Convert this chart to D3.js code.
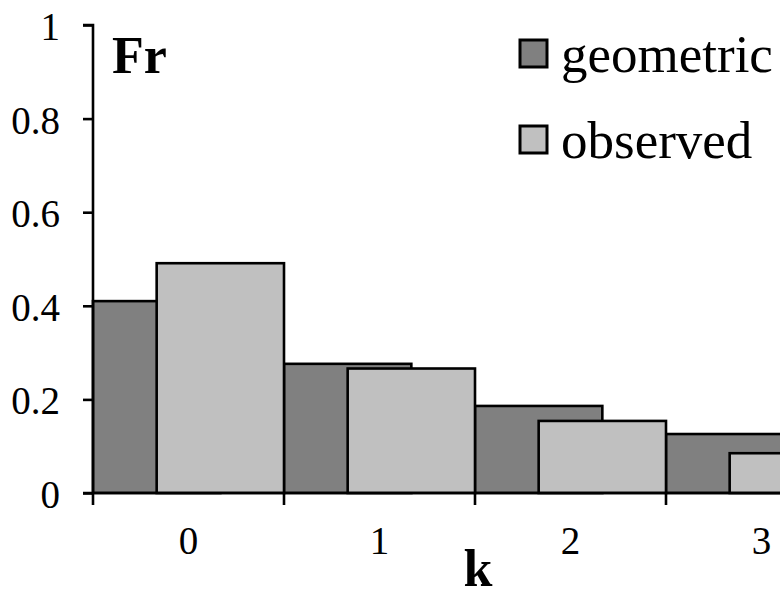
<!DOCTYPE html>
<html>
<head>
<meta charset="utf-8">
<script src="https://cdn.jsdelivr.net/npm/d3@7"></script>
<style>
  html, body { margin: 0; padding: 0; background: #fff; overflow: hidden; }
  svg { display: block; }
  text { font-family: "Liberation Serif", "Times New Roman", serif; fill: #000; }
</style>
</head>
<body>
<svg id="chart" width="780" height="590"></svg>
<script>
const categories = ["0", "1", "2", "3"];
const geometric = [0.41, 0.276, 0.186, 0.126];
const observed = [0.491, 0.266, 0.154, 0.085];
const yTicks = [0, 0.2, 0.4, 0.6, 0.8, 1];
const seriesNames = ["geometric", "observed"];
const seriesColors = ["#808080", "#c0c0c0"];

const svg = d3.select("#chart");
const x = d3.scaleBand().domain(categories).range([93, 857]).padding(0);
const y = d3.scaleLinear().domain([0, 1]).range([493, 25]);
const bw = x.bandwidth();
const barW = bw * 2 / 3;

// bars: geometric first, observed on top
const series = [geometric, observed];
series.forEach((vals, si) => {
  svg.append("g").selectAll("rect")
    .data(vals)
    .join("rect")
    .attr("x", (d, i) => x(categories[i]) + si * bw / 3)
    .attr("y", d => y(d))
    .attr("width", barW)
    .attr("height", d => y(0) - y(d))
    .attr("fill", seriesColors[si])
    .attr("stroke", "#000")
    .attr("stroke-width", 2.6);
});

// y axis
const yAxis = svg.append("g").attr("transform", "translate(93,0)")
  .call(d3.axisLeft(y).tickValues(yTicks).tickSize(10).tickPadding(23)
    .tickFormat(d => d3.format("")(d)));
yAxis.select(".domain").attr("stroke", "#000").attr("stroke-width", 2.6).attr("d", "M-10,25H0V493");
yAxis.selectAll(".tick line").attr("stroke", "#000").attr("stroke-width", 2.6);
yAxis.selectAll(".tick text").attr("font-size", 39).attr("font-family", "Liberation Serif").attr("dy", "0.37em");

// x axis
const xAxis = svg.append("g").attr("transform", "translate(0,493)")
  .call(d3.axisBottom(x).tickSize(0).tickPadding(0));
xAxis.select(".domain").remove();
xAxis.selectAll(".tick line").remove();
xAxis.selectAll(".tick text").attr("font-size", 39).attr("font-family", "Liberation Serif")
  .attr("dy", 0).attr("y", 61);
svg.append("line").attr("x1", 83).attr("x2", 857).attr("y1", 493).attr("y2", 493)
  .attr("stroke", "#000").attr("stroke-width", 2.6);
// boundary ticks
svg.append("g").selectAll("line")
  .data(categories.concat(["end"]))
  .join("line")
  .attr("x1", (d, i) => i < categories.length ? x(d) : x(categories[categories.length - 1]) + bw)
  .attr("x2", (d, i) => i < categories.length ? x(d) : x(categories[categories.length - 1]) + bw)
  .attr("y1", 493).attr("y2", 505)
  .attr("stroke", "#000").attr("stroke-width", 2.6);

// axis titles
svg.append("text").attr("x", 112).attr("y", 73).attr("font-size", 52).attr("font-weight", "bold").text("Fr");
svg.append("text").attr("x", 478).attr("y", 586).attr("text-anchor", "middle")
  .attr("font-size", 52).attr("font-weight", "bold").text("k");

// legend
const leg = svg.append("g");
seriesNames.forEach((name, i) => {
  const yy = 40 + i * 86;
  leg.append("rect").attr("x", 520).attr("y", yy).attr("width", 27).attr("height", 27)
    .attr("fill", seriesColors[i]).attr("stroke", "#000").attr("stroke-width", 3);
  leg.append("text").attr("x", 561).attr("y", yy + 32).attr("font-size", 53).text(name);
});
</script>
</body>
</html>
